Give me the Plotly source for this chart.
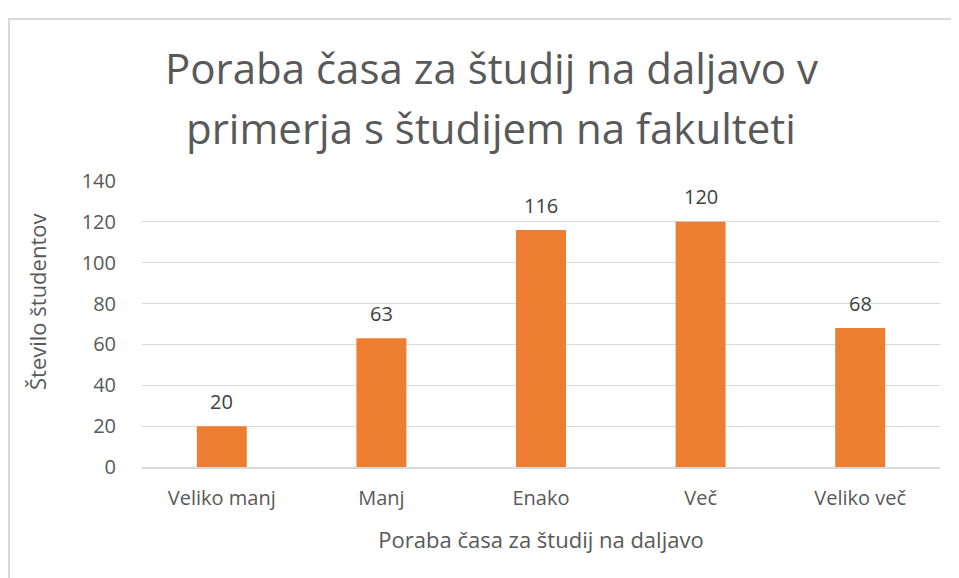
import plotly.graph_objects as go

categories = ["Veliko manj", "Manj", "Enako", "Več", "Veliko več"]
values = [20, 63, 116, 120, 68]
y_ticks = [0, 20, 40, 60, 80, 100, 120, 140]

title_lines = ["Poraba časa za študij na daljavo v", "primerja s študijem na fakulteti"]
x_title = "Poraba časa za študij na daljavo"
y_title = "Število študentov"

OFF = 8  # default page body margin
W, H = 959 - OFF, 578 - OFF
L, R, T, B = 142 - OFF, 19, 181 - OFF, 111
pw, ph = W - L - R, H - T - B

def px_x(p):  # page pixel -> paper
    return (p - OFF - L) / pw

def px_y(p):
    return (H - B - (p - OFF)) / ph

FONT = "Open Sans, Lato, sans-serif"
GREY = "#595959"

fig = go.Figure(go.Bar(
    x=categories, y=values,
    marker=dict(color="#ED7D31", line=dict(width=0)),
    hoverinfo="x+y",
))

annotations = []
for c, v in zip(categories, values):
    annotations.append(dict(x=c, y=v, xref="x", yref="y", text=str(v),
                            showarrow=False, yanchor="middle", yshift=25,
                            font=dict(family=FONT, size=20, color="#404040")))
for line, ycen in zip(title_lines, [68, 128]):
    annotations.append(dict(text=line, xref="paper", yref="paper",
                            x=px_x(491), y=px_y(ycen), xanchor="center",
                            yanchor="middle", showarrow=False,
                            font=dict(family=FONT, size=42, color=GREY)))
annotations.append(dict(text=y_title, xref="paper", yref="paper",
                        x=px_x(37), y=px_y(302), xanchor="center", yanchor="middle",
                        textangle=-90, showarrow=False,
                        font=dict(family=FONT, size=22, color=GREY)))

fig.update_layout(
    width=W, height=H,
    margin=dict(l=L, r=R, t=T, b=B),
    paper_bgcolor="white", plot_bgcolor="white",
    bargap=0.687,
    showlegend=False,
    font=dict(family=FONT, color=GREY),
    xaxis=dict(
        showgrid=False, showline=True, linecolor="#D9D9D9", linewidth=1.5,
        ticks="", tickfont=dict(size=20, color=GREY), ticklabelstandoff=12,
        title=dict(text=x_title, font=dict(size=22, color=GREY), standoff=23),
    ),
    yaxis=dict(
        range=[0, 140], tickvals=y_ticks, showgrid=True, gridcolor="#D9D9D9",
        gridwidth=1.2, zeroline=False, showline=False, ticks="",
        tickfont=dict(size=20, color=GREY), ticklabelstandoff=25,
    ),
    shapes=[dict(type="rect", xref="paper", yref="paper",
                 x0=px_x(9), x1=px_x(1100), y0=px_y(19), y1=px_y(700),
                 line=dict(color="#D9D9D9", width=2), layer="below")],
    annotations=annotations,
)

fig.write_html("out.html")
